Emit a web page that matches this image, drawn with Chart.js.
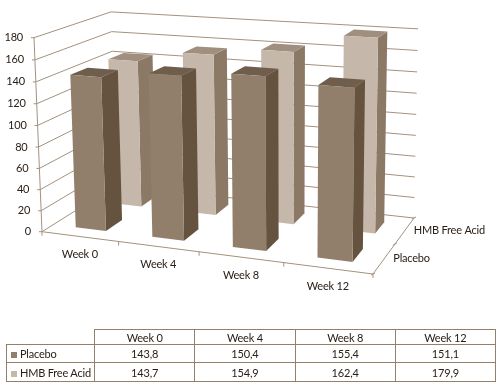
<!DOCTYPE html>
<html>
<head>
<meta charset="utf-8">
<script src="https://cdn.jsdelivr.net/npm/chart.js@4"></script>
<style>
html, body { margin: 0; padding: 0; background: #fff; }
#wrap { position: relative; width: 501px; height: 386px; overflow: hidden; }
canvas { position: absolute; left: 0; top: 0; }
table { position: absolute; left: 6px; top: 329px; width: 490px; border-collapse: collapse; table-layout: fixed;
    font: 11px Lato, sans-serif; letter-spacing: -0.2px; color: #2a2018; }
td { border: 1px solid #93806b; text-align: center; padding: 0; }
td.name { text-align: left; white-space: nowrap; padding-left: 4px; }
td.blank { border-top: none; border-left: none; }
i { display: inline-block; width: 6px; height: 6px; margin-right: 3px; }
</style>
</head>
<body>
<div id="wrap">
    <canvas id="chart" width="501" height="386"></canvas>
    <table id="dataTable"></table>
</div>
<script>
const weeks = ['Week 0', 'Week 4', 'Week 8', 'Week 12'];
const seriesNames = ['Placebo', 'HMB Free Acid'];
const placebo = [143.8, 150.4, 155.4, 151.1];
const hmb = [143.7, 154.9, 162.4, 179.9];
const valueTicks = [0, 20, 40, 60, 80, 100, 120, 140, 160, 180];

// kolory: przod, bok, gora
const placeboFaces = ['#917f6c', '#65533f', '#6f5e4c'];
const hmbFaces = ['#c5b8ab', '#8b7966', '#a08f7e'];
const lineColor = '#a3917e';
const textColor = '#2a2018';
const depthFill = 0.44;

// rogi ramy wykresu na ekranie (podloga i lewa sciana)
const O = [42, 231.7], PU = [373, 274], PD = [116, 185.2], PUD = [414, 218];
const PH = [34, 37.7];
const c = -0.0316; // zbieznosc pionow

// rzut perspektywiczny (u, d, h) -> ekran
function makeProjection() {
    const ax = PUD[0] - PU[0], bx = PUD[0] - PD[0], rx = PU[0] + PD[0] - O[0] - PUD[0];
    const ay = PUD[1] - PU[1], by = PUD[1] - PD[1], ry = PU[1] + PD[1] - O[1] - PUD[1];
    const det = ax * by - bx * ay;
    const a = (rx * by - bx * ry) / det;
    const b = (ax * ry - rx * ay) / det;
    return function (u, d, h) {
        const w = 1 + a * u + b * d + c * h;
        return [0, 1].map(k => (O[k]
            + (PU[k] * (1 + a) - O[k]) * u
            + (PD[k] * (1 + b) - O[k]) * d
            + (PH[k] * (1 + c) - O[k]) * h) / w);
    };
}
const project = makeProjection();

function line(ctx, p, q) {
    ctx.beginPath();
    ctx.moveTo(p[0], p[1]);
    ctx.lineTo(q[0], q[1]);
    ctx.stroke();
}

function face(ctx, pts, color) {
    ctx.fillStyle = color;
    ctx.beginPath();
    pts.forEach((p, i) => i ? ctx.lineTo(p[0], p[1]) : ctx.moveTo(p[0], p[1]));
    ctx.closePath();
    ctx.fill();
}

const box3d = {
    id: 'box3d',
    beforeDatasetsDraw(chart) {
        const ctx = chart.ctx;
        const x = chart.scales.x, y = chart.scales.y, z = chart.scales.z;
        const toU = px => (px - x.left) / x.width;
        const toH = py => (y.bottom - py) / y.height;
        const toD = px => (px - z.left) / z.width;

        ctx.save();
        ctx.strokeStyle = lineColor;
        ctx.lineWidth = 1;

        // siatka na scianach
        y.ticks.forEach(t => {
            const h = toH(y.getPixelForValue(t.value));
            const a = project(0, 0, h), b = project(0, 1, h), e = project(1, 1, h);
            line(ctx, a, b);
            line(ctx, b, e);
            line(ctx, [a[0] - 3, a[1]], a);
        });
        line(ctx, project(0, 0, 0), project(0, 0, 1));

        // podloga
        line(ctx, project(0, 0, 0), project(1, 0, 0));
        line(ctx, project(1, 0, 0), project(1, 1, 0));
        for (let i = 0; i <= weeks.length; i++) {
            const p = project(i / weeks.length, 0, 0);
            line(ctx, p, [p[0], p[1] + 4]);
        }
        for (let i = 0; i <= seriesNames.length; i++) {
            const p = project(1, i / seriesNames.length, 0);
            line(ctx, [p[0] - 2, p[1] + 1], [p[0] + 2, p[1] - 1]);
        }

        // slupki od tylu do przodu
        for (let s = seriesNames.length - 1; s >= 0; s--) {
            const faces = s === 0 ? placeboFaces : hmbFaces;
            const slot = 1 / seriesNames.length;
            const dc = toD(z.getPixelForValue(s));
            const d0 = dc - slot * depthFill / 2, d1 = dc + slot * depthFill / 2;
            chart.getDatasetMeta(s).data.forEach(el => {
                const u0 = toU(el.x - el.width / 2), u1 = toU(el.x + el.width / 2);
                const h = toH(el.y);
                face(ctx, [project(u1, d0, 0), project(u1, d1, 0), project(u1, d1, h), project(u1, d0, h)], faces[1]);
                face(ctx, [project(u0, d0, h), project(u1, d0, h), project(u1, d1, h), project(u0, d1, h)], faces[2]);
                face(ctx, [project(u0, d0, 0), project(u1, d0, 0), project(u1, d0, h), project(u0, d0, h)], faces[0]);
            });
        }

        // opisy osi
        ctx.fillStyle = textColor;
        ctx.font = '11px Lato, sans-serif';
        ctx.letterSpacing = '-0.2px';
        ctx.textBaseline = 'middle';
        ctx.textAlign = 'right';
        y.ticks.forEach(t => {
            const p = project(0, 0, toH(y.getPixelForValue(t.value)));
            ctx.fillText(t.label, p[0] - 11, p[1]);
        });
        ctx.textAlign = 'center';
        weeks.forEach((w, i) => {
            const p = project(toU(x.getPixelForValue(i)), 0, 0);
            ctx.fillText(w, p[0], p[1] + 18);
        });
        ctx.textAlign = 'left';
        seriesNames.forEach((n, i) => {
            const p = project(1, toD(z.getPixelForValue(i)), 0);
            ctx.fillText(n, p[0] + 9, p[1]);
        });
        ctx.restore();
        return false;
    }
};

new Chart(document.getElementById('chart').getContext('2d'), {
    type: 'bar',
    data: {
        labels: weeks,
        datasets: [
            { label: seriesNames[0], data: placebo },
            { label: seriesNames[1], data: hmb }
        ]
    },
    options: {
        responsive: false,
        animation: false,
        grouped: false,
        barPercentage: 0.40,
        categoryPercentage: 1,
        plugins: { legend: { display: false }, tooltip: { enabled: false } },
        scales: {
            x: { type: 'category', labels: weeks, offset: true, display: false },
            y: { min: valueTicks[0], max: valueTicks[valueTicks.length - 1], display: false, ticks: { stepSize: 20 } },
            z: { type: 'category', axis: 'x', position: 'bottom', labels: seriesNames, offset: true, display: false }
        }
    },
    plugins: [box3d]
});

// tabela danych pod wykresem
const rows = [[null].concat(weeks), [seriesNames[0]].concat(placebo), [seriesNames[1]].concat(hmb)];
const swatches = [null, placeboFaces[0], hmbFaces[0]];
const rowHeights = [15, 18, 19];
const fmt = v => typeof v === 'number' ? v.toFixed(1).replace('.', ',') : v;
document.getElementById('dataTable').innerHTML =
    '<colgroup><col style="width:88px"><col span="4"></colgroup>' +
    rows.map((row, r) => '<tr style="height:' + rowHeights[r] + 'px">' + row.map((v, k) => {
        if (k === 0 && r === 0) return '<td class="blank"></td>';
        if (k === 0) return '<td class="name"><i style="background:' + swatches[r] + '"></i>' + v + '</td>';
        return '<td>' + fmt(v) + '</td>';
    }).join('') + '</tr>').join('');
</script>
</body>
</html>
